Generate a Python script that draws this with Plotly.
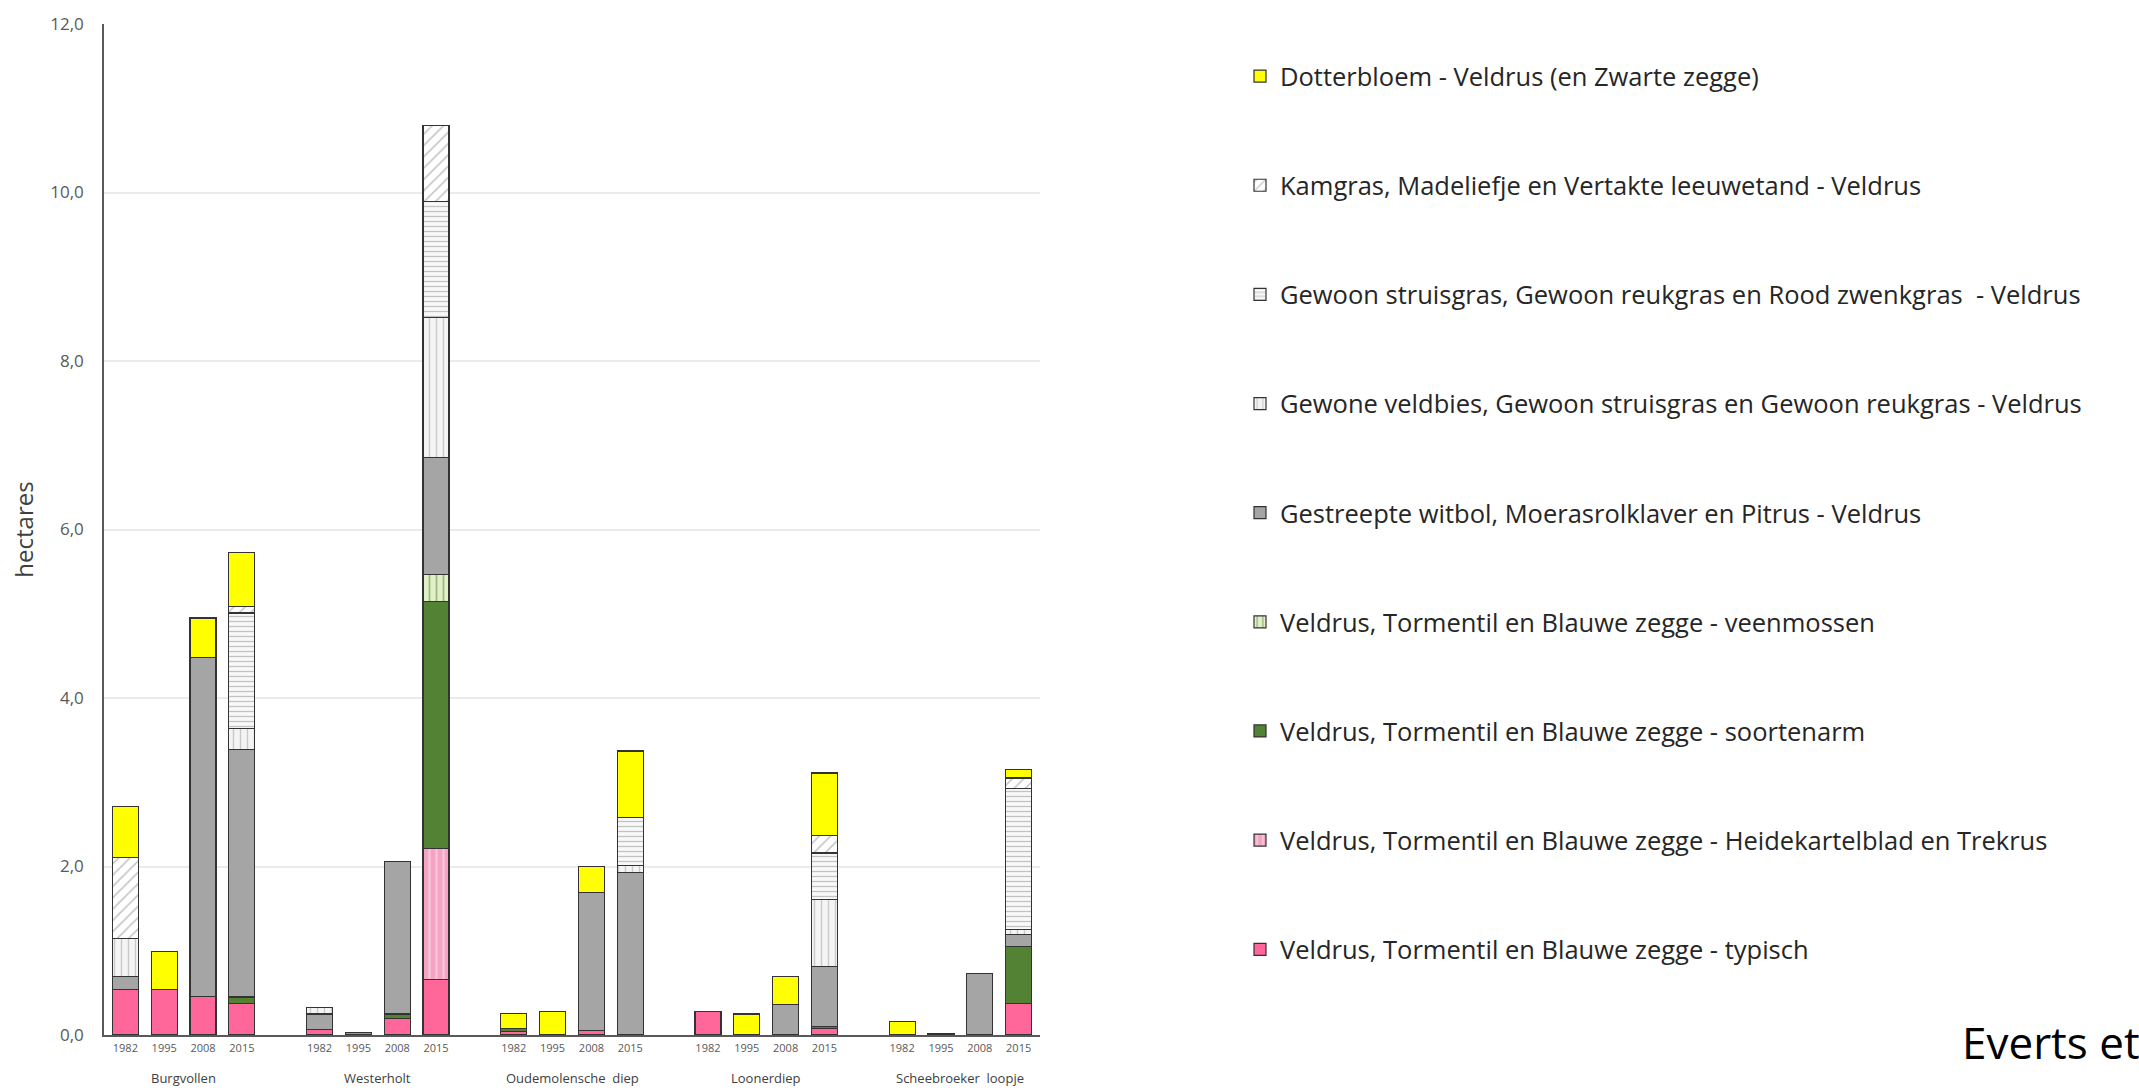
import plotly.graph_objects as go

groups = ["Burgvollen", "Westerholt", "Oudemolensche  diep", "Loonerdiep", "Scheebroeker  loopje"]
years = ["1982", "1995", "2008", "2015"]

# values per bar: 5 groups x 4 years (hectares), stacked bottom -> top
typisch = [0.54, 0.54, 0.46, 0.37,  0.07, 0.03, 0.20, 0.66,  0.04, 0.00, 0.05, 0.00,  0.28, 0.00, 0.00, 0.08,  0.00, 0.00, 0.00, 0.37]
heidekartelblad = [0, 0, 0, 0,  0, 0, 0, 1.55,  0, 0, 0, 0,  0, 0, 0, 0,  0, 0, 0, 0]
soortenarm = [0, 0, 0, 0.08,  0, 0, 0.05, 2.94,  0.04, 0, 0, 0,  0, 0, 0, 0.02,  0, 0, 0, 0.68]
veenmossen = [0, 0, 0, 0,  0, 0, 0, 0.32,  0, 0, 0, 0,  0, 0, 0, 0,  0, 0, 0, 0]
gestreepte = [0.15, 0, 4.02, 2.94,  0.18, 0, 1.81, 1.38,  0, 0, 1.64, 1.93,  0, 0, 0.36, 0.71,  0, 0.02, 0.73, 0.14]
veldbies = [0.46, 0, 0, 0.25,  0.08, 0, 0, 1.67,  0, 0, 0, 0.08,  0, 0, 0, 0.80,  0, 0, 0, 0.06]
struisgras = [0, 0, 0, 1.37,  0, 0, 0, 1.37,  0, 0, 0, 0.57,  0, 0, 0, 0.55,  0, 0, 0, 1.68]
kamgras = [0.96, 0, 0, 0.08,  0, 0, 0, 0.91,  0, 0, 0, 0,  0, 0, 0, 0.21,  0, 0, 0, 0.12]
dotterbloem = [0.60, 0.45, 0.47, 0.64,  0, 0, 0, 0,  0.18, 0.28, 0.31, 0.79,  0, 0.25, 0.33, 0.74,  0.16, 0, 0, 0.10]

series_names = [
    "Veldrus, Tormentil en Blauwe zegge - typisch",
    "Veldrus, Tormentil en Blauwe zegge - Heidekartelblad en Trekrus",
    "Veldrus, Tormentil en Blauwe zegge - soortenarm",
    "Veldrus, Tormentil en Blauwe zegge - veenmossen",
    "Gestreepte witbol, Moerasrolklaver en Pitrus - Veldrus",
    "Gewone veldbies, Gewoon struisgras en Gewoon reukgras - Veldrus",
    "Gewoon struisgras, Gewoon reukgras en Rood zwenkgras  - Veldrus",
    "Kamgras, Madeliefje en Vertakte leeuwetand - Veldrus",
    "Dotterbloem - Veldrus (en Zwarte zegge)",
]
series_values = [typisch, heidekartelblad, soortenarm, veenmossen, gestreepte,
                 veldbies, struisgras, kamgras, dotterbloem]

styles = [
    dict(color="#FF6699"),
    dict(color="#FBD3E2", pattern=dict(shape="|", bgcolor="#F4A3C2", fgcolor="#FDE3EC", size=7, solidity=0.35)),
    dict(color="#548235"),
    dict(color="#548235", pattern=dict(shape="|", bgcolor="#E2F0C9", fgcolor="#548235", size=7, solidity=0.25)),
    dict(color="#A5A5A5"),
    dict(color="#A5A5A5", pattern=dict(shape="|", bgcolor="#F4F4F4", fgcolor="#A0A0A0", size=7, solidity=0.2)),
    dict(color="#A5A5A5", pattern=dict(shape="-", bgcolor="#F8F8F8", fgcolor="#8C8C8C", size=5, solidity=0.25)),
    dict(color="#8C8C8C", pattern=dict(shape="/", bgcolor="#FFFFFF", fgcolor="#8C8C8C", size=8, solidity=0.2)),
    dict(color="#FFFF00"),
]

xpos = [g * 5 + i for g in range(len(groups)) for i in range(len(years))]
ticktext = [y for g in groups for y in years]

FONT = "Open Sans"

fig = go.Figure()
for k, (name, vals, st) in enumerate(zip(series_names, series_values, styles)):
    marker = dict(st)
    marker["line"] = dict(color="#333333", width=1.2)
    fig.add_trace(go.Bar(
        x=xpos, y=[v if v else None for v in vals], name=name,
        marker=marker, width=0.67, legendgroup=f"g{k}", legendrank=1000 - 10 * k,
    ))

for g, grp in enumerate(groups):
    fig.add_annotation(x=g * 5 + 1.5, y=0, xref="x", yref="paper", yshift=-43,
                       text=grp, showarrow=False, xanchor="center", yanchor="middle",
                       font=dict(family=FONT, size=13, color="#404040"))

# plot area: x 104..1040, y 17..1035 (pixels)
fig.add_annotation(x=(1960 - 104) / 936, y=(1035 - 1042) / 1018, xref="paper", yref="paper",
                   text="Everts et", showarrow=False, xanchor="left", yanchor="middle",
                   font=dict(family=FONT, size=44, color="#000000"))

fig.update_layout(
    width=2139, height=1092,
    margin=dict(l=104, r=1099, t=17, b=57),
    barmode="stack",
    separators=",.",
    paper_bgcolor="white", plot_bgcolor="white",
    font=dict(family=FONT, color="#404040"),
    showlegend=True,
    legend=dict(
        xref="container", yref="container",
        x=1240 / 2139, y=1 - 53 / 1092, xanchor="left", yanchor="top",
        traceorder="grouped", tracegroupgap=73, maxheight=2000,
        font=dict(family=FONT, size=25.5, color="#262626"),
        itemwidth=30, bgcolor="rgba(0,0,0,0)",
    ),
    xaxis=dict(
        range=[-0.55, 23.55], tickmode="array", tickvals=xpos, ticktext=ticktext,
        showgrid=False, zeroline=False, showline=True, linecolor="#595959", linewidth=1.5,
        ticks="", tickfont=dict(family=FONT, size=11, color="#595959"),
        ticklabelstandoff=2,
    ),
    yaxis=dict(
        range=[0, 12], dtick=2, tickformat=".1f",
        showgrid=True, gridcolor="#EBEBEB", gridwidth=1.5,
        zeroline=False, showline=True, linecolor="#595959", linewidth=1.5,
        ticks="", tickfont=dict(family=FONT, size=17, color="#595959"),
        ticklabelstandoff=15,
        title=dict(text="hectares", font=dict(family=FONT, size=24, color="#404040"), standoff=10),
    ),
)

fig.write_html("out.html", config={"displayModeBar": False},
               post_script="document.body.style.margin='0';")
